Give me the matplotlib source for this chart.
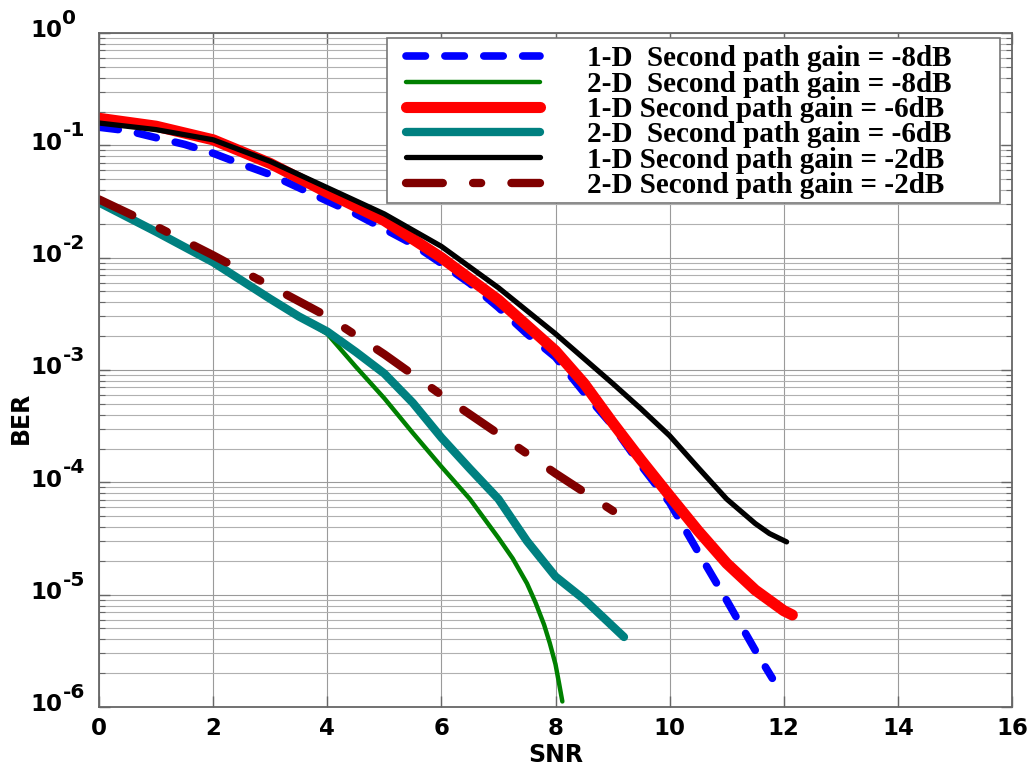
import numpy as np
import matplotlib
matplotlib.use("Agg")
import matplotlib.pyplot as plt
from matplotlib.ticker import LogLocator, NullFormatter
from matplotlib.transforms import blended_transform_factory, offset_copy
from matplotlib.patches import Rectangle

plt.rcParams['lines.scale_dashes'] = False

# ---------------- data ----------------
labels = [
    "1-D  Second path gain = -8dB",
    "2-D  Second path gain = -8dB",
    "1-D Second path gain = -6dB",
    "2-D  Second path gain = -6dB",
    "1-D Second path gain = -2dB",
    "2-D Second path gain = -2dB",
]

snr_1d_m8 = [0, 0.5, 1, 1.5, 2, 2.5, 3, 3.5, 4, 4.5, 5, 5.5, 6, 6.5, 7, 7.5, 8, 8.5, 9, 9.5, 10, 10.5, 11, 11.5, 11.8]
ber_1d_m8 = [1.45e-1, 1.35e-1, 1.17e-1, 1.02e-1, 8.5e-2, 6.8e-2, 5.5e-2, 4.2e-2, 3.2e-2, 2.45e-2,
             1.8e-2, 1.32e-2, 8.9e-3, 5.9e-3, 3.6e-3, 2.1e-3, 1.3e-3, 6.3e-4, 3.2e-4, 1.41e-4,
             6.6e-5, 2.4e-5, 8.9e-6, 3.2e-6, 1.8e-6]

snr_2d_m8 = [0, 1, 2, 3, 3.5, 4, 4.5, 5, 5.5, 6, 6.5, 7, 7.25, 7.5, 7.65, 7.8, 7.9, 8.0, 8.06, 8.12]
ber_2d_m8 = [3.1e-2, 1.7e-2, 9.1e-3, 4.3e-3, 3.0e-3, 2.1e-3, 1.07e-3, 5.6e-4, 2.75e-4, 1.38e-4,
             7.1e-5, 3.2e-5, 2.1e-5, 1.26e-5, 8.5e-6, 5.4e-6, 3.7e-6, 2.4e-6, 1.65e-6, 1.12e-6]

snr_1d_m6 = [0, 1, 2, 3, 4, 5, 6, 7, 8, 8.5, 9, 9.5, 10, 10.5, 11, 11.5, 12, 12.15]
ber_1d_m6 = [1.74e-1, 1.48e-1, 1.12e-1, 6.9e-2, 3.8e-2, 2.14e-2, 1.0e-2, 4.2e-3, 1.48e-3, 7.6e-4,
             3.4e-4, 1.58e-4, 7.6e-5, 3.7e-5, 1.9e-5, 1.1e-5, 7.2e-6, 6.6e-6]

snr_2d_m6 = [0, 1, 2, 3, 3.5, 4, 4.5, 5, 5.5, 6, 6.5, 7, 7.5, 8, 8.5, 9.2]
ber_2d_m6 = [3.1e-2, 1.7e-2, 9.1e-3, 4.3e-3, 3.0e-3, 2.2e-3, 1.45e-3, 9.3e-4, 5.1e-4, 2.5e-4,
             1.32e-4, 7.1e-5, 3.0e-5, 1.45e-5, 9.1e-6, 4.2e-6]

snr_1d_m2 = [0, 1, 2, 3, 4, 5, 6, 7, 8, 9, 9.5, 10, 10.5, 11, 11.5, 11.75, 12.05]
ber_1d_m2 = [1.58e-1, 1.38e-1, 1.12e-1, 7.2e-2, 4.2e-2, 2.45e-2, 1.26e-2, 5.4e-3, 2.1e-3, 7.6e-4,
             4.5e-4, 2.6e-4, 1.35e-4, 7.1e-5, 4.3e-5, 3.5e-5, 2.95e-5]

snr_2d_m2 = [0, 1, 2, 3, 4, 5, 6, 7, 8, 9, 9.4]
ber_2d_m2 = [3.3e-2, 1.9e-2, 1.05e-2, 5.6e-3, 3.0e-3, 1.38e-3, 6.0e-4, 2.7e-4, 1.2e-4, 5.6e-5, 4.3e-5]

x_ticks = [0, 2, 4, 6, 8, 10, 12, 14, 16]
y_exponents = [0, -1, -2, -3, -4, -5, -6]

# ---------------- figure ----------------
W, H = 1034, 766
fig = plt.figure(figsize=(W / 100, H / 100), dpi=100)
ax_l, ax_r, ax_t, ax_b = 99, 1012, 33, 707
ax = fig.add_axes([ax_l / W, 1 - ax_b / H, (ax_r - ax_l) / W, (ax_b - ax_t) / H])

def ax_x(px):
    return (px - ax_l) / (ax_r - ax_l)

def ax_y(py):
    return (ax_b - py) / (ax_b - ax_t)

series = [
    (snr_1d_m8, ber_1d_m8, dict(color='#0000ff', lw=5.5, ls=(0, (14, 14)))),
    (snr_2d_m8, ber_2d_m8, dict(color='#008000', lw=3.2, ls='-')),
    (snr_1d_m6, ber_1d_m6, dict(color='#ff0000', lw=8.0, ls='-')),
    (snr_2d_m6, ber_2d_m6, dict(color='#008080', lw=6.0, ls='-')),
    (snr_1d_m2, ber_1d_m2, dict(color='#000000', lw=3.8, ls='-')),
    (snr_2d_m2, ber_2d_m2, dict(color='#800000', lw=6.0, ls=(0, (26.5, 21.8, 5.8, 21.8)))),
]
for (xs, ys, st), lab in zip(series, labels):
    ax.semilogy(xs, ys, label=lab, color=st['color'], lw=st['lw'], linestyle=st['ls'],
                solid_capstyle='round', dash_capstyle='round',
                solid_joinstyle='round', dash_joinstyle='round')

ax.set_xlim(0, 16)
ax.set_ylim(1e-6, 1)
ax.set_xticks(x_ticks)
ax.yaxis.set_major_locator(LogLocator(base=10, numticks=10))
ax.yaxis.set_minor_locator(LogLocator(base=10, subs=np.arange(2, 10), numticks=20))
ax.yaxis.set_minor_formatter(NullFormatter())
ax.set_yticklabels([])

ax.grid(True, which='major', axis='both', color='#9a9a9a', lw=0.8)
ax.grid(True, which='minor', axis='y', color='#b0b0b0', lw=0.8)
ax.set_axisbelow(True)

ax.tick_params(which='both', direction='in', top=True, right=True, colors='#666666')
ax.tick_params(which='major', length=8, width=1)
ax.tick_params(which='minor', length=4, width=0.8)
ax.tick_params(axis='x', labelsize=16.5, labelcolor='black', pad=7)
for lbl in ax.get_xticklabels():
    lbl.set_fontweight('bold')

for s in ax.spines.values():
    s.set_color('#666666')
    s.set_linewidth(1.3)

# y tick labels drawn as "10" + large exponent
trans = blended_transform_factory(ax.transAxes, ax.transData)
for e in y_exponents:
    t1 = offset_copy(trans, fig=fig, x=-26.5, y=1.5, units='points')
    ax.text(0, 10.0 ** e, "10", transform=t1, ha='right', va='center',
            fontsize=16.5, fontweight='bold', family='DejaVu Sans')
    t2 = offset_copy(trans, fig=fig, x=-26.3, y=10.5, units='points')
    ax.text(0, 10.0 ** e, "%d" % e, transform=t2, ha='left', va='center',
            fontsize=14.5, fontweight='bold', family='DejaVu Sans')

ax.set_xlabel("SNR", fontsize=17, fontweight='bold', labelpad=2)
ax.set_ylabel("BER", fontsize=17, fontweight='bold')
ax.yaxis.set_label_coords(-0.072, 0.429)

# legend frame drawn separately, legend itself without frame
box_l, box_r, box_t, box_b = 387, 1000, 38, 203
ax.add_patch(Rectangle((ax_x(box_l), ax_y(box_b)), ax_x(box_r) - ax_x(box_l), ax_y(box_t) - ax_y(box_b),
                       transform=ax.transAxes, facecolor='white', edgecolor='#777777', lw=1.2,
                       zorder=4, clip_on=False))
leg = ax.legend(loc='upper left', bbox_to_anchor=(ax_x(406), ax_y(45.5)), borderaxespad=0,
                prop={'family': 'Liberation Serif', 'weight': 'bold', 'size': 21},
                handlelength=4.6, handletextpad=1.6, labelspacing=-0.06, borderpad=0.0,
                frameon=False)
leg.set_zorder(5)

fig.savefig("out.png", dpi=100)
